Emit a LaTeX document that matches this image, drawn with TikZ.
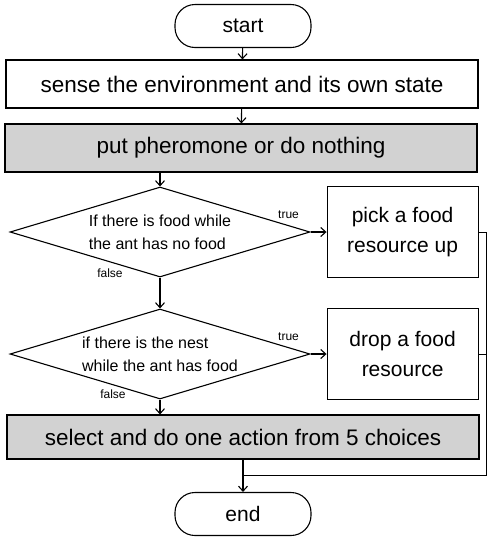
\documentclass[tikz,border=0pt]{standalone}
\usepackage{fontspec}
\setmainfont{Liberation Sans}
\usetikzlibrary{positioning,shapes.geometric,arrows.meta}
\tikzset{
    terminal/.style={rectangle, draw, rounded corners=20pt, minimum width=136pt, minimum height=43pt, font=\fontsize{21}{24}\selectfont},
    procbox/.style={rectangle, draw, minimum width=472pt, minimum height=48pt, font=\fontsize{22.5}{26}\selectfont},
    shadebox/.style={procbox, fill=gray!35},
    actbox/.style={rectangle, draw, minimum width=151pt, minimum height=91pt, align=center, font=\fontsize{21}{30}\selectfont},
    decision/.style={diamond, draw, aspect=3.33, minimum width=300pt, minimum height=90pt, inner sep=0pt, align=left, font=\fontsize{16}{23}\selectfont},
    arrow/.style={-{Straight Barb[length=5pt,width=9pt]}, line width=1.1pt},
    link/.style={line width=0.8pt},
    tag/.style={font=\fontsize{12}{13}\selectfont}
}
\begin{document}
\begin{tikzpicture}[x=1pt, y=-1pt, line width=1.1pt]
    \useasboundingbox (0,0) rectangle (488,539);
    \node[terminal] (start) at (243,26) {start};
    \node[procbox] (sense) at (242,84) {sense the environment and its own state};
    \node[shadebox] (phero) at (241,148) {put pheromone or do nothing};
    \node[decision] (dfood) at (160,232) {If there is food while\\the ant has no food};
    \node[actbox, right=16pt of dfood] (pick) {pick a food\\resource up};
    \node[decision] (dnest) at (160,354) {if there is the nest\\while the ant has food};
    \node[actbox, right=16pt of dnest] (drop) {drop a food\\resource};
    \node[shadebox, minimum height=44pt] (select) at (243,437) {select and do one action from 5 choices};
    \node[terminal] (end) at (243,514) {end};
    \coordinate (join) at (243,475);
    \coordinate (rside) at (486,475);

    \draw[arrow] (start) -- (sense);
    \draw[arrow] (sense) -- (phero);
    \draw[arrow] (phero.south -| dfood.north) -- (dfood);
    \draw[arrow] (dfood) -- node[tag, pos=0, xshift=-22pt, yshift=17pt] {true} (pick);
    \draw[arrow] (dfood) -- node[tag, pos=0, xshift=-50pt, yshift=4pt] {false} (dnest);
    \draw[arrow] (dnest) -- node[tag, pos=0, xshift=-22pt, yshift=17pt] {true} (drop);
    \draw[arrow] (dnest) -- node[tag, pos=0, xshift=-47pt, yshift=5pt] {false} (select.north -| dnest.south);
    \draw[arrow] (select) -- (end);
    % back from the two actions
    \draw[link] (pick.east) -- (pick.east -| rside) -- (rside) -- (join);
    \draw[link] (drop.east) -- (drop.east -| rside);
\end{tikzpicture}
\end{document}
